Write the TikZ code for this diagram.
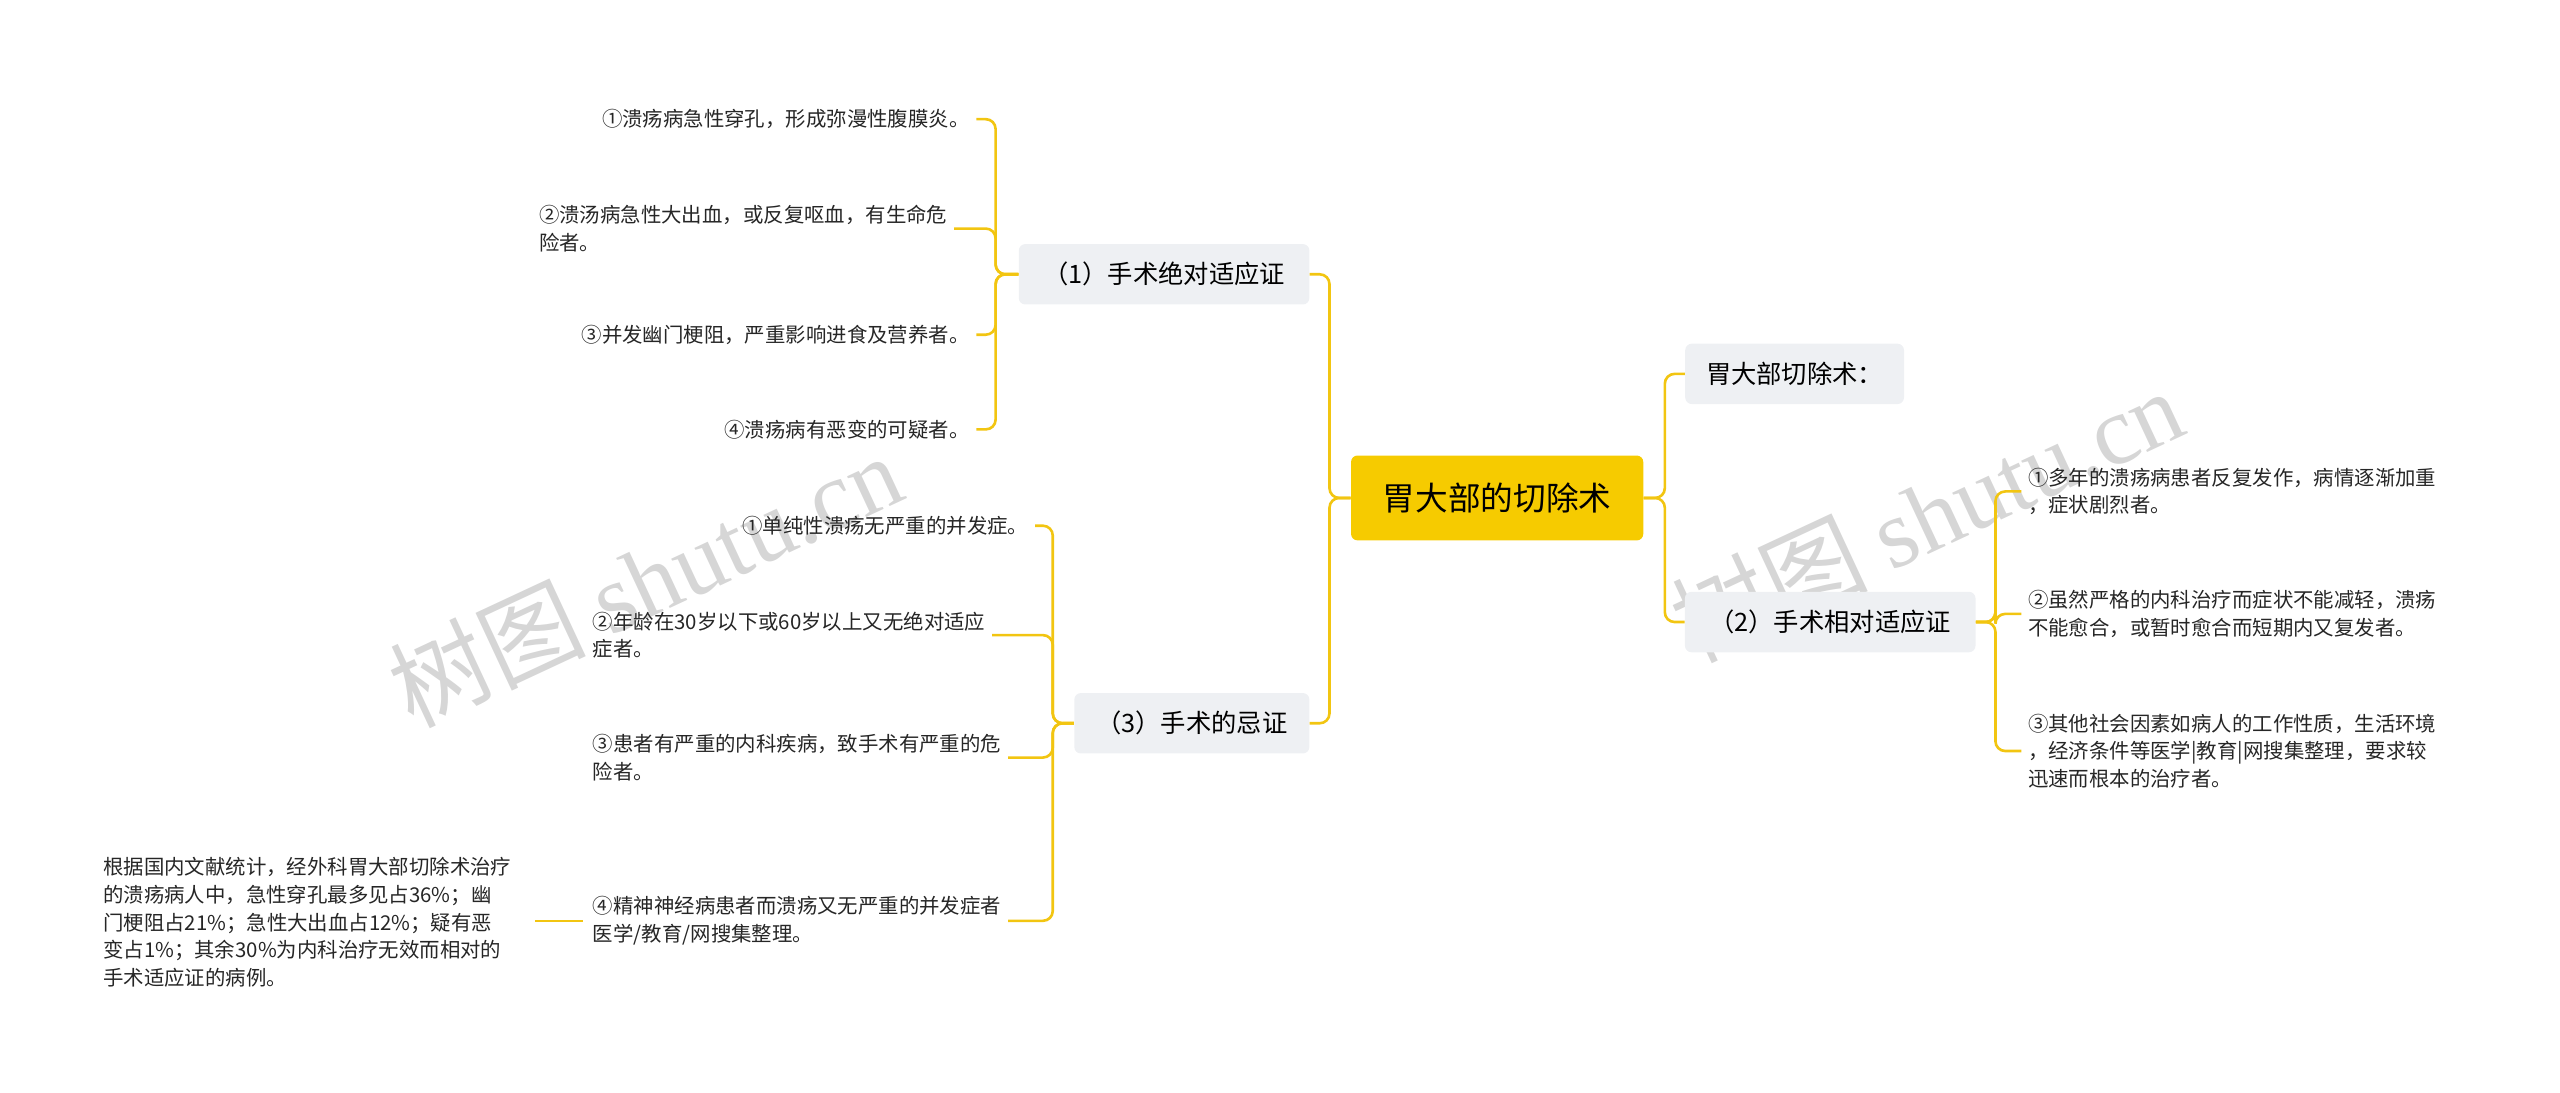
\documentclass[tikz,border=0pt]{standalone}
\usepackage{fontspec}
\setmainfont{Noto Sans CJK SC}
\newfontfamily\wmlat{Liberation Serif}
\definecolor{conn}{HTML}{F2C511}
\definecolor{rootc}{HTML}{F6CB00}
\definecolor{brc}{HTML}{EEF0F3}
\begin{document}
\begin{tikzpicture}[x=1pt,y=-1pt,
  cn/.style={draw=conn,line width=1.6pt,rounded corners=6pt},
  rootbox/.style={fill=rootc,rounded corners=4pt,minimum width=179pt,minimum height=52pt,font=\fontsize{20}{24}\selectfont},
  brbox/.style={fill=brc,rounded corners=4pt,minimum height=37pt,inner xsep=9pt,font=\fontsize{15.5}{19}\selectfont},
  leaf/.style={align=left,inner sep=2pt,font=\fontsize{12.5}{17}\selectfont,text=black!85},
  wm/.style={text=black!16,rotate=25,font=\fontsize{60}{62}\selectfont}]
\useasboundingbox (0,0) rectangle (1568,669);
\node[wm] (w1) at (395,355) {树图 {\wmlat shutu.cn}};
\node[wm] (w2) at (1180,315) {树图 {\wmlat shutu.cn}};
\node[rootbox] (root) at (917,305) {胃大部的切除术};
\node[brbox,minimum width=178pt] (b1) at (713,168) {（1）手术绝对适应证};
\node[brbox,minimum width=144pt] (b3) at (730,443) {（3）手术的忌证};
\node[brbox,minimum width=134pt,anchor=west] (b0) at (1032,229) {胃大部切除术：};
\node[brbox,minimum width=178pt] (b2) at (1121,381) {（2）手术相对适应证};
% leaves of (1)
\node[leaf,anchor=east] (a1) at (596,73) {①溃疡病急性穿孔，形成弥漫性腹膜炎。};
\node[leaf,anchor=west] (a2) at (328,140) {②溃汤病急性大出血，或反复呕血，有生命危\\险者。};
\node[leaf,anchor=east] (a3) at (596,205) {③并发幽门梗阻，严重影响进食及营养者。};
\node[leaf,anchor=east] (a4) at (596,263) {④溃疡病有恶变的可疑者。};
% leaves of (3)
\node[leaf,anchor=east] (c1) at (632,322) {①单纯性溃疡无严重的并发症。};
\node[leaf,anchor=west] (c2) at (361,389) {②年龄在30岁以下或60岁以上又无绝对适应\\症者。};
\node[leaf,anchor=west] (c3) at (361,464) {③患者有严重的内科疾病，致手术有严重的危\\险者。};
\node[leaf,anchor=west] (c4) at (361,564) {④精神神经病患者而溃疡又无严重的并发症者\\医学/教育/网搜集整理。};
\node[leaf,anchor=west] (d1) at (61,565) {根据国内文献统计，经外科胃大部切除术治疗\\的溃疡病人中，急性穿孔最多见占36\%；幽\\门梗阻占21\%；急性大出血占12\%；疑有恶\\变占1\%；其余30\%为内科治疗无效而相对的\\手术适应证的病例。};
% leaves of (2)
\node[leaf,anchor=west] (e1) at (1240,301) {①多年的溃疡病患者反复发作，病情逐渐加重\\，症状剧烈者。};
\node[leaf,anchor=west] (e2) at (1240,376) {②虽然严格的内科治疗而症状不能减轻，溃疡\\不能愈合，或暂时愈合而短期内又复发者。};
\node[leaf,anchor=west] (e3) at (1240,460) {③其他社会因素如病人的工作性质，生活环境\\，经济条件等医学|教育|网搜集整理，要求较\\迅速而根本的治疗者。};
% connectors
\foreach \t in {b1,b3} \draw[cn] (root.west) -- ++(-13,0) |- (\t.east);
\foreach \t in {b0,b2} \draw[cn] (root.east) -- ++(13,0) |- (\t.west);
\foreach \t in {a1,a2,a3,a4} \draw[cn] (b1.west) -- ++(-14,0) |- ([xshift=2pt]\t.east);
\foreach \t in {c1,c2,c3,c4} \draw[cn] (b3.west) -- ++(-13,0) |- ([xshift=2pt]\t.east);
\foreach \t in {e1,e2,e3} \draw[cn] (b2.east) -- ++(12,0) |- ([xshift=-2pt]\t.west);
\draw[cn] ([xshift=-4pt]c4.west) -- ([xshift=12pt]d1.east |- c4.west);
\end{tikzpicture}
\end{document}
